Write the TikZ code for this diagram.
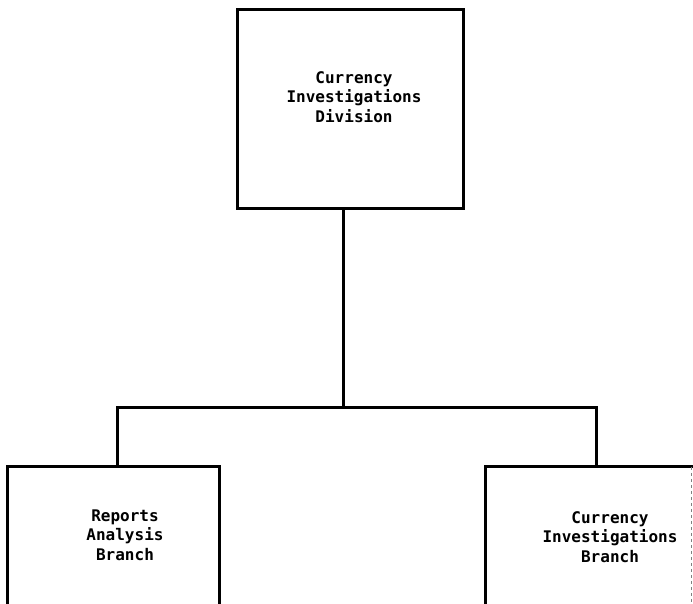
\documentclass[tikz,border=0pt]{standalone}
\usepackage{fontspec}
\newfontfamily\typefont{DejaVu Sans Mono}
\begin{document}
\begin{tikzpicture}[x=1pt,y=-1pt,
  orgline/.style={line width=3pt,line cap=rect},
  orgbox/.style={draw,line width=3pt,inner sep=0pt},
  openbox/.style={draw=none,inner sep=0pt},
  orgtext/.style={align=center,inner sep=0pt,font=\typefont\bfseries\fontsize{16}{19.5}\selectfont}]
\useasboundingbox (0,0) rectangle (693,603);
\fill[white] (0,0) rectangle (693,603);
\clip (0,0) rectangle (693,603);
% top box
\node[orgbox,minimum width=226pt,minimum height=199pt] (top) at (350,108.5) {};
\node[orgtext] (toptext) at (354,97) {Currency\\Investigations\\Division};
% bottom boxes (open at the bottom)
\node[openbox,minimum width=211pt,minimum height=200pt] (lb) at (113.5,567) {};
\node[orgtext] (lbtext) at (125,535) {Reports\\Analysis\\Branch};
\node[openbox,minimum width=205pt,minimum height=200pt] (rb) at (588.5,567) {};
\node[orgtext] (rbtext) at (610,537) {Currency\\Investigations\\Branch};
\draw[orgline] (lb.south west) -- (lb.north west) -- (lb.north east) -- (lb.south east);
\draw[orgline] (rb.south west) -- (rb.north west) -- (rb.north east);
\draw[gray,line width=0.8pt,dashed] (rb.north east) -- (rb.south east);
% connectors
\coordinate (j) at (343,407);
\coordinate (jl) at (117,407);
\coordinate (jr) at (596,407);
\draw[orgline] (top.south -| j) -- (j);
\draw[orgline] (lb.north -| jl) -- (jl) -- (jr) -- (rb.north -| jr);
\end{tikzpicture}
\end{document}
